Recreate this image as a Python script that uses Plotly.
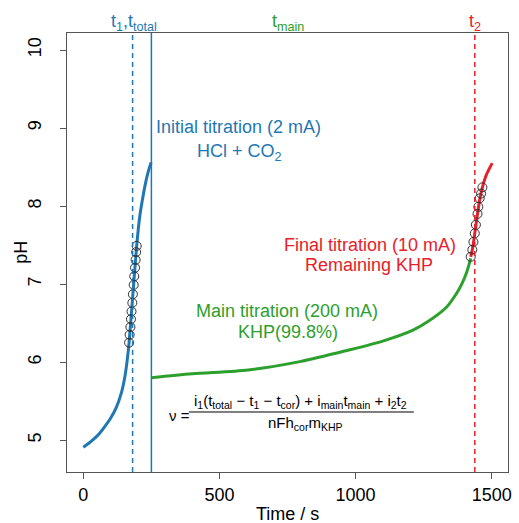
import plotly.graph_objects as go

# ---- data ----
t_init = [0, 20, 40, 60, 80, 100, 120, 140, 152, 161, 168, 182, 196, 207, 218, 230, 240, 249]
ph_init = [4.91, 4.96, 5.02, 5.09, 5.18, 5.28, 5.41, 5.61, 5.80, 6.02, 6.25, 6.87, 7.49, 7.86, 8.10, 8.32, 8.46, 8.56]

t_init_pts = [168, 170, 173, 175, 177, 180, 182, 185, 187, 190, 192, 194, 196]
ph_init_pts = [6.25, 6.35, 6.45, 6.55, 6.65, 6.76, 6.87, 6.99, 7.10, 7.21, 7.31, 7.41, 7.49]

t_main = [250, 400, 606, 800, 969, 1100, 1211, 1270, 1333, 1369, 1390, 1408, 1423]
ph_main = [5.80, 5.85, 5.90, 6.01, 6.15, 6.27, 6.41, 6.53, 6.70, 6.87, 7.00, 7.15, 7.33]

t_final = [1423, 1429, 1438, 1448, 1456, 1466, 1478, 1490, 1502]
ph_final = [7.35, 7.44, 7.65, 7.90, 8.08, 8.24, 8.38, 8.47, 8.55]

t_final_pts = [1423, 1429, 1433, 1438, 1442, 1448, 1451, 1456, 1461, 1466]
ph_final_pts = [7.35, 7.44, 7.54, 7.65, 7.76, 7.90, 7.99, 8.10, 8.16, 8.24]

t1 = 181
t_total = 250
t2 = 1438
t_main_label = 752

x_ticks = [0, 500, 1000, 1500]
y_ticks = [5, 6, 7, 8, 9, 10]

BLUE = "#1f77b4"
GREEN = "#2ca02c"
RED = "#e8202a"
FONT = "Arial, Liberation Sans, sans-serif"

fig = go.Figure()
fig.add_trace(go.Scatter(x=t_init, y=ph_init, mode="lines",
                         line=dict(color=BLUE, width=3, shape="spline", smoothing=0.8)))
fig.add_trace(go.Scatter(x=t_main, y=ph_main, mode="lines",
                         line=dict(color=GREEN, width=3, shape="spline", smoothing=0.8)))
fig.add_trace(go.Scatter(x=t_final, y=ph_final, mode="lines",
                         line=dict(color=RED, width=3, shape="spline", smoothing=0.8)))
for tx, py in [(t_init_pts, ph_init_pts), (t_final_pts, ph_final_pts)]:
    fig.add_trace(go.Scatter(x=tx, y=py, mode="markers",
                             marker=dict(symbol="circle-open", size=9, color="#333333", line=dict(width=1))))

# vertical markers
fig.add_shape(type="line", x0=t1, x1=t1, y0=0, y1=1, xref="x", yref="paper",
              line=dict(color=BLUE, width=1.5, dash="5px,4px"))
fig.add_shape(type="line", x0=t_total, x1=t_total, y0=0, y1=1, xref="x", yref="paper",
              line=dict(color=BLUE, width=1.5))
fig.add_shape(type="line", x0=t2, x1=t2, y0=0, y1=1, xref="x", yref="paper",
              line=dict(color=RED, width=1.5, dash="5px,4px"))

def ann(text, x, y, color, size=18, xref="paper", yref="paper", **kw):
    fig.add_annotation(text=text, x=x, y=y, xref=xref, yref=yref, showarrow=False,
                       font=dict(family=FONT, size=size, color=color),
                       xanchor=kw.pop("xanchor", "center"), yanchor=kw.pop("yanchor", "middle"), **kw)

# top labels
ann("t<sub>1</sub>,t<sub>total</sub>", 0.1528, 1.025, BLUE)
ann("t<sub>main</sub>", t_main_label, 1.025, GREEN, xref="x")
ann("t<sub>2</sub>", t2, 1.025, RED, xref="x")

ann("Initial titration (2 mA)", 0.3888, 0.7859, BLUE)
ann("HCl + CO<sub>2</sub>", 0.391, 0.7289, BLUE)
ann("Final titration (10 mA)", 0.6865, 0.5171, RED)
ann("Remaining KHP", 0.6854, 0.4715, RED)
ann("Main titration (200 mA)", 0.4989, 0.3667, GREEN)
ann("KHP(99.8%)", 0.5011, 0.3189, GREEN)

# formula
ann("i<sub>1</sub>(t<sub>total</sub> − t<sub>1</sub> − t<sub>cor</sub>) + i<sub>main</sub>t<sub>main</sub> + i<sub>2</sub>t<sub>2</sub>",
    0.5303, 0.1606, "black", size=15)
ann("nFh<sub>cor</sub>m<sub>KHP</sub>", 0.5416, 0.1116, "black", size=15)
ann("ν =", 0.2562, 0.1298, "black", size=15)
fig.add_shape(type="line", x0=0.2764, x1=0.7865, y0=0.1367, y1=0.1367, xref="paper", yref="paper",
              line=dict(color="black", width=1))

# axis titles
ann("Time / s", 0.5, -0.095, "black", yanchor="middle")
ann("pH", -0.106, 0.5, "black", textangle=-90)

axis_common = dict(showline=True, mirror=True, linecolor="#555555", linewidth=1,
                   ticks="outside", ticklen=6, tickcolor="#555555", showgrid=False, zeroline=False,
                   tickfont=dict(family=FONT, size=18, color="black"))
fig.update_xaxes(range=[-60, 1560], tickvals=x_ticks, **axis_common)
fig.update_yaxes(range=[4.592, 10.218], tickvals=y_ticks, tickangle=-90, ticklabelstandoff=12,
                 **axis_common)

fig.update_layout(width=519, height=523, margin=dict(l=67, r=7, t=33, b=51),
                  paper_bgcolor="white", plot_bgcolor="white", showlegend=False,
                  font=dict(family=FONT))
fig.write_html("out.html")
